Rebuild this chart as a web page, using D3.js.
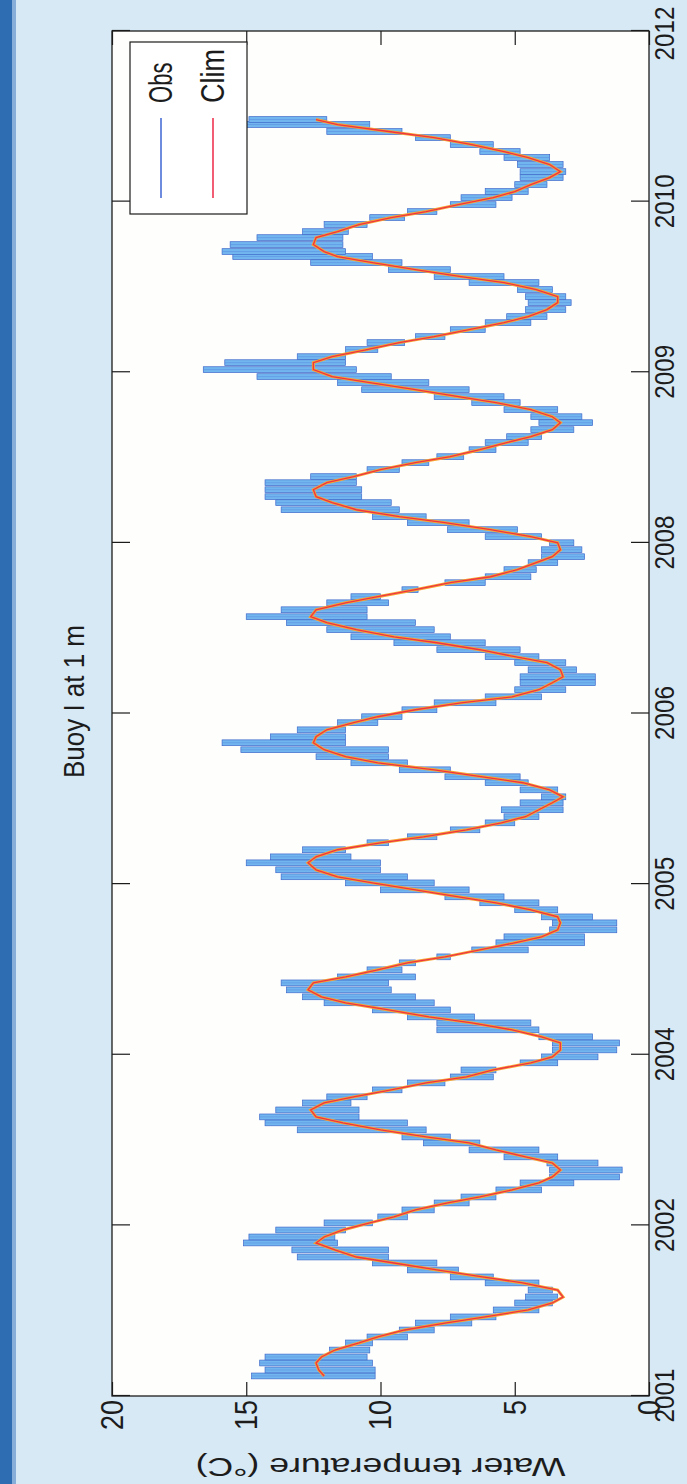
<!DOCTYPE html>
<html>
<head>
<meta charset="utf-8">
<script src="https://cdn.jsdelivr.net/npm/d3@7"></script>
<style>
body { margin: 0; background: #d7e9f5; }
svg { display: block; }
text { font-family: "Liberation Sans", Arial, sans-serif; fill: #1c1c1c; }
</style>
</head>
<body>
<div id="chart"></div>
<script>
var sampleTime = [
  2001.511, 2001.559, 2001.615, 2001.663, 2001.719, 2001.776, 2001.824, 2001.880, 2001.936, 2001.985,
  2002.041, 2002.097, 2002.145, 2002.201, 2002.258, 2002.306, 2002.362, 2002.418, 2002.466, 2002.523,
  2002.579, 2002.627, 2002.683, 2002.740, 2002.788, 2002.844, 2002.900, 2002.948, 2003.005, 2003.061,
  2003.109, 2003.165, 2003.221, 2003.270, 2003.326, 2003.382, 2003.430, 2003.487, 2003.543, 2003.591,
  2003.647, 2003.703, 2003.752, 2003.808, 2003.864, 2003.912, 2003.968, 2004.025, 2004.073, 2004.129,
  2004.185, 2004.234, 2004.290, 2004.346, 2004.394, 2004.450, 2004.507, 2004.555, 2004.611, 2004.667,
  2004.715, 2004.772, 2004.828, 2004.876, 2004.932, 2004.989, 2005.037, 2005.093, 2005.149, 2005.197,
  2005.254, 2005.310, 2005.358, 2005.414, 2005.470, 2005.519, 2005.575, 2005.631, 2005.679, 2005.736,
  2005.792, 2005.840, 2005.896, 2005.952, 2006.001, 2006.057, 2006.113, 2006.161, 2006.217, 2006.274,
  2006.322, 2006.378, 2006.434, 2006.483, 2006.539, 2006.595, 2006.643, 2006.699, 2006.756, 2006.804,
  2006.860, 2006.916, 2006.964, 2007.021, 2007.077, 2007.125, 2007.181, 2007.238, 2007.286, 2007.342,
  2007.398, 2007.446, 2007.503, 2007.559, 2007.607, 2007.663, 2007.719, 2007.768, 2007.824, 2007.880,
  2007.928, 2007.985, 2008.041, 2008.089, 2008.145, 2008.201, 2008.250, 2008.306, 2008.362, 2008.410,
  2008.466, 2008.523, 2008.571, 2008.627, 2008.683, 2008.732, 2008.788, 2008.844, 2008.892, 2008.948,
  2009.005, 2009.053, 2009.109, 2009.165, 2009.213, 2009.270, 2009.326, 2009.374, 2009.430, 2009.487,
  2009.535, 2009.591, 2009.647, 2009.695, 2009.752, 2009.808, 2009.856, 2009.912, 2009.968, 2010.017,
  2010.073, 2010.129, 2010.177, 2010.234, 2010.290, 2010.338, 2010.394, 2010.450, 2010.499, 2010.539,
  2010.595, 2010.651, 2010.699, 2010.756, 2010.812, 2010.860, 2010.916, 2010.972, 2011.021, 2011.077,
  2011.133, 2011.181, 2011.238, 2011.294, 2011.342, 2011.398, 2011.454, 2011.503, 2011.559, 2011.599
];

var climTemp = [
  12.1, 12.3, 12.4, 12.2, 11.7, 10.8, 10.1, 9.1, 7.6, 6.1,
  4.5, 3.6, 3.2, 3.4, 4.7, 6.2, 7.9, 9.5, 10.9, 11.7,
  12.4, 12.1, 11.4, 10.4, 9.5, 8.7, 7.5, 6.3, 5.1, 4.1,
  3.6, 3.3, 3.6, 4.6, 5.7, 6.7, 8.3, 10.0, 11.4, 12.4,
  12.6, 12.1, 11.0, 9.6, 8.3, 6.8, 5.8, 4.4, 3.6, 3.3,
  3.3, 4.0, 5.1, 6.6, 8.2, 9.7, 11.3, 12.2, 12.7, 12.5,
  11.3, 10.1, 9.0, 7.6, 6.3, 5.0, 4.0, 3.4, 3.3, 3.4,
  4.4, 5.7, 7.1, 8.7, 10.3, 11.6, 12.4, 12.7, 12.4, 11.6,
  10.0, 8.4, 6.8, 5.5, 4.6, 4.1, 3.6, 3.2, 3.7, 4.7,
  6.2, 8.0, 10.1, 11.3, 12.1, 12.5, 12.4, 12.0, 11.0, 10.1,
  8.7, 7.0, 5.1, 4.1, 3.6, 3.2, 3.3, 3.8, 5.0, 6.3,
  7.9, 9.5, 10.9, 12.0, 12.6, 12.4, 11.3, 10.1, 8.7, 7.4,
  5.9, 4.9, 4.2, 3.6, 3.3, 3.4, 4.4, 5.9, 7.6, 9.3,
  10.9, 11.8, 12.4, 12.5, 12.0, 11.0, 10.0, 8.7, 7.4, 6.3,
  5.3, 4.4, 3.6, 3.3, 3.6, 4.4, 5.7, 7.1, 8.7, 10.4,
  11.8, 12.5, 12.5, 11.8, 10.5, 9.3, 8.0, 6.7, 5.4, 4.5,
  3.8, 3.4, 3.4, 4.2, 5.4, 7.0, 8.7, 10.3, 11.6, 12.1,
  12.5, 12.4, 11.6, 10.8, 9.6, 8.3, 7.1, 5.8, 5.0, 4.4,
  3.7, 3.3, 3.7, 4.5, 5.4, 6.6, 8.0, 9.7, 11.6, 12.4
];

var obsHigh = [
  14.8, 14.3, 14.5, 14.3, 11.9, 11.3, 10.5, 9.3, 8.7, 7.4,
  5.8, 5.0, 4.6, 4.5, 6.1, 7.4, 9.0, 10.3, 13.1, 13.3,
  15.1, 14.9, 13.9, 12.1, 10.1, 9.2, 8.0, 7.0, 5.7, 4.8,
  3.7, 3.7, 3.8, 5.4, 6.7, 8.4, 9.2, 13.1, 14.3, 14.5,
  13.9, 12.9, 12.0, 10.3, 9.0, 7.4, 7.0, 4.8, 4.0, 3.6,
  3.6, 4.1, 7.9, 7.9, 9.0, 10.3, 12.1, 12.9, 13.5, 13.7,
  11.6, 10.5, 9.3, 7.9, 6.6, 5.7, 5.4, 3.7, 3.6, 4.0,
  5.0, 6.3, 7.6, 10.0, 11.3, 13.7, 13.9, 15.0, 14.1, 12.9,
  10.5, 9.0, 7.4, 6.1, 5.4, 5.5, 4.8, 4.0, 4.8, 6.1,
  7.6, 9.3, 11.1, 12.4, 15.2, 15.9, 14.1, 13.1, 11.6, 10.7,
  9.2, 8.0, 6.1, 5.0, 4.8, 4.8, 4.5, 5.0, 6.1, 7.9,
  9.5, 11.1, 12.0, 13.5, 15.0, 13.7, 12.0, 11.1, 9.2, 7.6,
  6.1, 5.4, 4.5, 4.0, 4.0, 3.7, 6.1, 7.5, 9.0, 10.3,
  13.7, 13.9, 14.3, 14.3, 14.3, 12.6, 10.5, 9.2, 7.9, 6.7,
  6.1, 5.3, 4.4, 4.1, 4.4, 5.4, 6.6, 8.0, 10.7, 11.6,
  14.6, 16.6, 15.8, 13.1, 11.3, 10.5, 8.7, 7.4, 6.1, 5.3,
  4.6, 4.5, 4.6, 4.9, 6.7, 8.0, 9.7, 12.6, 15.5, 15.9,
  15.6, 14.6, 12.9, 12.1, 10.4, 9.0, 7.4, 7.0, 6.1, 5.0,
  4.8, 4.8, 4.9, 5.4, 6.3, 7.4, 8.7, 12.0, 15.0, 14.9
];

var obsLow = [
  10.2, 10.2, 10.3, 10.5, 10.4, 10.3, 9.0, 8.0, 6.6, 5.7,
  4.1, 3.6, 3.4, 3.6, 4.1, 5.8, 7.1, 7.9, 9.7, 9.7,
  11.6, 11.7, 11.3, 10.3, 9.0, 8.0, 6.7, 5.7, 4.0, 2.8,
  1.1, 1.0, 1.9, 3.4, 4.1, 6.3, 7.4, 8.3, 9.0, 10.8,
  10.8, 11.1, 10.5, 9.2, 7.6, 5.8, 5.7, 3.4, 1.9, 1.2,
  1.1, 2.1, 4.1, 4.4, 6.5, 7.4, 8.0, 8.7, 9.6, 9.7,
  8.7, 9.2, 8.7, 7.4, 4.5, 2.4, 2.4, 1.2, 1.2, 2.1,
  3.4, 4.1, 5.4, 6.7, 8.0, 9.0, 10.0, 10.0, 11.1, 11.3,
  9.7, 7.9, 6.3, 5.0, 4.1, 3.2, 3.2, 3.1, 3.4, 4.5,
  4.8, 7.4, 9.0, 9.7, 9.7, 11.3, 11.3, 11.3, 10.1, 9.2,
  7.9, 5.7, 4.0, 3.1, 2.0, 2.0, 2.7, 3.1, 4.1, 4.8,
  6.1, 7.4, 8.0, 8.7, 10.5, 10.5, 9.7, 10.0, 8.6, 6.1,
  4.4, 4.2, 3.4, 2.4, 2.5, 2.8, 4.0, 4.9, 6.7, 8.3,
  9.3, 9.6, 10.7, 10.7, 10.9, 10.9, 9.3, 8.2, 6.9, 5.7,
  4.5, 4.0, 2.8, 2.1, 2.5, 3.4, 4.8, 5.4, 6.7, 8.2,
  9.6, 10.9, 11.3, 11.3, 10.1, 9.1, 7.6, 6.1, 4.4, 3.8,
  3.1, 2.9, 3.1, 3.6, 4.1, 5.4, 7.4, 9.2, 10.3, 11.3,
  11.4, 11.4, 11.2, 10.5, 9.1, 7.9, 5.7, 5.1, 4.5, 3.8,
  3.2, 3.1, 3.2, 3.7, 4.8, 5.8, 7.4, 9.2, 10.4, 12.0
];

//time ticks are evenly spaced dates, labelled with their year only
var tickTimes = [2001.35, 2002.72, 2004.09, 2005.46, 2006.83, 2008.20, 2009.57, 2010.94, 2012.31];
var yearLabels = ["2001", "2002", "2004", "2005", "2006", "2008", "2009", "2010", "2012"];
var tempTicks = [0, 5, 10, 15, 20];
var legendLabels = ["Obs", "Clim"];
var legendColors = ["#4a6fd6", "#ef3552"];

var pageW = 687, pageH = 1484;
var W = 1365, H = 537;   // plot size before the figure is turned on its side

var svg = d3.select("#chart").append("svg")
    .attr("width", pageW)
    .attr("height", pageH);

//paper and the blue binding strip on the left
svg.append("rect").attr("width", pageW).attr("height", pageH).attr("fill", "#d7e9f5");
svg.append("rect").attr("width", 12).attr("height", pageH).attr("fill", "#2f6db3");
svg.append("rect").attr("x", 12).attr("width", 4).attr("height", pageH).attr("fill", "#86aed8");

//draw the chart landscape, then rotate it like the scanned page
var g = svg.append("g")
    .attr("transform", "translate(112,1396) rotate(-90)");

var x = d3.scaleLinear().domain([tickTimes[0], tickTimes[tickTimes.length - 1]]).range([0, W]);
var y = d3.scaleLinear().domain([0, 20]).range([H, 0]);

g.append("rect").attr("width", W).attr("height", H).attr("fill", "#fefefd");

//observed daily range as packed thin bars
var bars = g.append("g")
  .selectAll("g")
  .data(sampleTime)
  .join("g");

bars.append("rect")
    .attr("x", function(d) { return x(d) - 2.9; })
    .attr("width", 5.8)
    .attr("y", function(d, i) { return y(obsHigh[i]); })
    .attr("height", function(d, i) { return Math.max(1, y(obsLow[i]) - y(obsHigh[i])); })
    .attr("fill", "#72b6ef")
    .attr("stroke", "#3f69ca")
    .attr("stroke-width", 0.7);

bars.append("line")
    .attr("x1", function(d) { return x(d); })
    .attr("x2", function(d) { return x(d); })
    .attr("y1", function(d, i) { return y(obsHigh[i]); })
    .attr("y2", function(d, i) { return y(obsLow[i]); })
    .attr("stroke", "#5b8fe0")
    .attr("stroke-width", 0.6);

//climatology line with an orange underlay
var climLine = d3.line()
    .x(function(d) { return x(d); })
    .y(function(d, i) { return y(climTemp[i]); });

g.append("path")
    .datum(sampleTime)
    .attr("d", climLine)
    .attr("fill", "none")
    .attr("stroke", "#f7a530")
    .attr("stroke-width", 3);

g.append("path")
    .datum(sampleTime)
    .attr("d", climLine)
    .attr("fill", "none")
    .attr("stroke", "#ee3344")
    .attr("stroke-width", 1.3);

//axes, ticks pointing inward on all four sides
var xBottom = g.append("g")
    .attr("transform", "translate(0," + H + ")")
    .call(d3.axisBottom(x).tickValues(tickTimes)
      .tickFormat(function(d, i) { return yearLabels[i]; })
      .tickSizeInner(-18).tickSizeOuter(0).tickPadding(6));
xBottom.selectAll("text")
    .attr("font-size", 27)
    .attr("dx", function(d, i) { return i === tickTimes.length - 1 ? -3 : 0; })
    .attr("textLength", 54)
    .attr("lengthAdjust", "spacingAndGlyphs");

g.append("g")
    .call(d3.axisTop(x).tickValues(tickTimes).tickFormat("").tickSizeInner(-18).tickSizeOuter(0));

var yLeft = g.append("g")
    .call(d3.axisLeft(y).tickValues(tempTicks).tickSizeInner(-14).tickSizeOuter(0).tickPadding(4));
yLeft.selectAll("text")
    .attr("font-size", 32)
    .attr("textLength", function(d) { return String(d).length * 15; })
    .attr("lengthAdjust", "spacingAndGlyphs");

g.append("g")
    .attr("transform", "translate(" + W + ",0)")
    .call(d3.axisRight(y).tickValues(tempTicks).tickFormat("").tickSizeInner(-14).tickSizeOuter(0));

g.selectAll(".domain").remove();
g.selectAll(".tick line").attr("stroke", "#1c1c1c").attr("stroke-width", 1.2);

g.append("rect")
    .attr("width", W)
    .attr("height", H)
    .attr("fill", "none")
    .attr("stroke", "#1c1c1c")
    .attr("stroke-width", 1.3);

//labels
g.append("text")
    .attr("transform", "translate(-62," + (H / 2) + ") rotate(-90)")
    .attr("text-anchor", "middle")
    .attr("font-size", 26)
    .attr("textLength", 370)
    .attr("lengthAdjust", "spacingAndGlyphs")
    .text("Water temperature (°C)");

g.append("text")
    .attr("x", W / 2 + 12)
    .attr("y", -28)
    .attr("text-anchor", "middle")
    .attr("font-size", 30)
    .attr("textLength", 153)
    .attr("lengthAdjust", "spacingAndGlyphs")
    .text("Buoy I at 1 m");

//legend box in the upper right of the plot
var legend = g.append("g")
    .attr("transform", "translate(" + (W - 183) + ",18)");

legend.append("rect")
    .attr("width", 172)
    .attr("height", 117)
    .attr("fill", "#ffffff")
    .attr("stroke", "#1c1c1c")
    .attr("stroke-width", 1.2);

legend.selectAll("line")
  .data(legendLabels)
  .join("line")
    .attr("x1", 16)
    .attr("x2", 96)
    .attr("y1", function(d, i) { return 31 + i * 52; })
    .attr("y2", function(d, i) { return 31 + i * 52; })
    .attr("stroke", function(d, i) { return legendColors[i]; })
    .attr("stroke-width", 1.6);

legend.selectAll("text")
  .data(legendLabels)
  .join("text")
    .attr("x", 111)
    .attr("y", function(d, i) { return 42 + i * 52; })
    .attr("font-size", 34)
    .attr("textLength", function(d) { return d.length * 13.5; })
    .attr("lengthAdjust", "spacingAndGlyphs")
    .text(function(d) { return d; });
</script>
</body>
</html>
